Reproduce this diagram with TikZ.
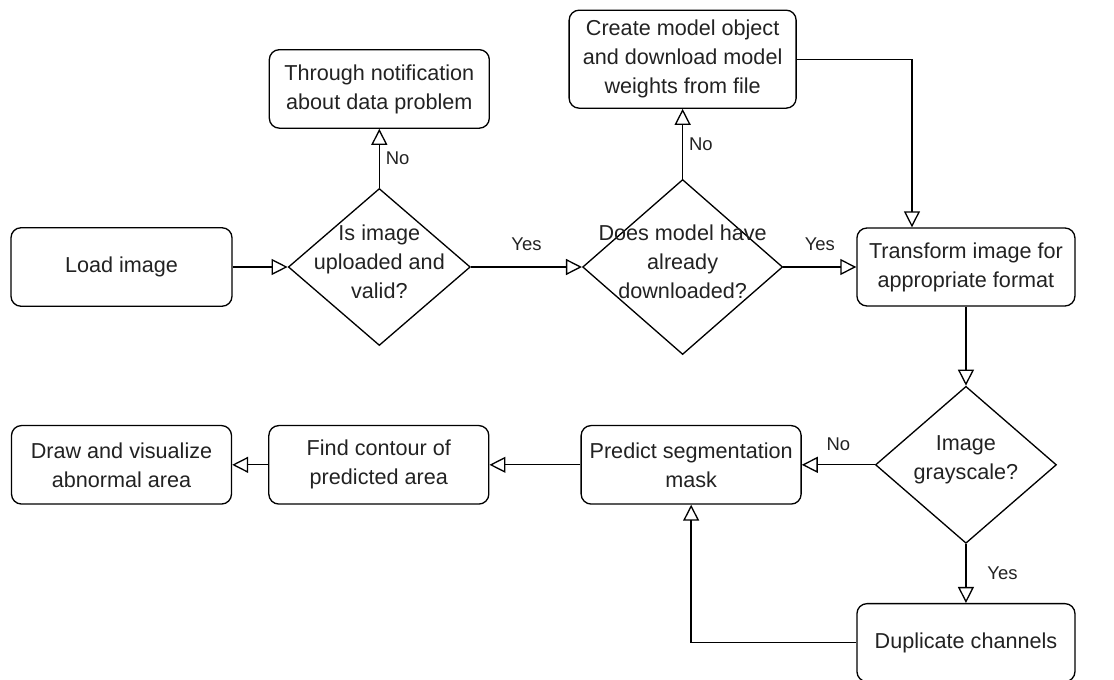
\documentclass[tikz,border=0pt]{standalone}
\usepackage{fontspec}
\setmainfont{Liberation Sans}
\usetikzlibrary{arrows.meta,positioning,shapes.geometric}
\definecolor{flowtext}{HTML}{222222}

\begin{document}
\begin{tikzpicture}[
    node distance=1.1cm and 1.1cm,
    box/.style={rounded corners=2mm, draw, line width=0.75pt, align=center, minimum width=4.4cm, minimum height=1.57cm, inner sep=2pt, text=flowtext, font=\fontsize{12.3}{16.5}\selectfont},
    decision/.style={diamond, draw, line width=0.75pt, inner sep=0pt},
    dtext/.style={align=center, text=flowtext, yshift=1mm, font=\fontsize{12.3}{16.5}\selectfont},
    arrow/.style={-{Triangle[open, length=3.2mm, width=3.2mm]}, line width=0.75pt},
    lbl/.style={font=\fontsize{10.5}{12}\selectfont, text=flowtext}
  ]
    \useasboundingbox (0,0) rectangle (22.28,-13.6);

    \node[box, minimum width=4.42cm] (load) at (2.43,-5.34) {Load image};
    \node[decision, minimum width=3.64cm, minimum height=3.14cm, right=1.1cm of load, label={[dtext]center:{Is image\\uploaded and\\valid?}}] (valid) {};
    \node[box, above=1.18cm of valid] (notif) {Through notification\\about data problem};
    \node[decision, minimum width=4cm, minimum height=3.5cm, right=2.22cm of valid, label={[dtext]center:{Does model have\\already\\downloaded?}}] (model) {};
    \node[box, minimum width=4.54cm, minimum height=1.96cm, above=1.4cm of model] (create) {Create model object\\and download model\\weights from file};
    \node[box, minimum width=4.36cm, minimum height=1.56cm, right=1.46cm of model] (transform) {Transform image for\\appropriate format};
    \node[decision, minimum width=3.62cm, minimum height=3.14cm, below=1.58cm of transform, label={[dtext]center:{Image\\grayscale?}}] (gray) {};
    \node[box, minimum width=4.36cm, minimum height=1.56cm, below=1.18cm of gray] (dup) {Duplicate channels};
    \node[box, left=1.46cm of gray] (predict) {Predict segmentation\\mask};
    \node[box, left=1.82cm of predict] (contour) {Find contour of\\predicted area};
    \node[box, left=0.72cm of contour] (visual) {Draw and visualize\\abnormal area};

    \draw[arrow] (load) -- (valid);
    \draw[arrow] (valid) -- node[lbl, right] {No} (notif);
    \draw[arrow] (valid) -- node[lbl, above=1.9mm] {Yes} (model);
    \draw[arrow] (model) -- node[lbl, right] {No} (create);
    \draw[arrow] (model) -- node[lbl, above=1.9mm] {Yes} (transform);
    \draw[arrow] (create.east) -| ([xshift=-1.08cm]transform.north);
    \draw[arrow] (transform) -- (gray);
    \draw[arrow] (gray) -- node[lbl, above=1.6mm] {No} (predict);
    \draw[arrow] (gray) -- node[lbl, right=3mm] {Yes} (dup);
    \draw[arrow] (dup.west) -| (predict.south);
    \draw[arrow] (predict) -- (contour);
    \draw[arrow] (contour) -- (visual);
\end{tikzpicture}
\end{document}
